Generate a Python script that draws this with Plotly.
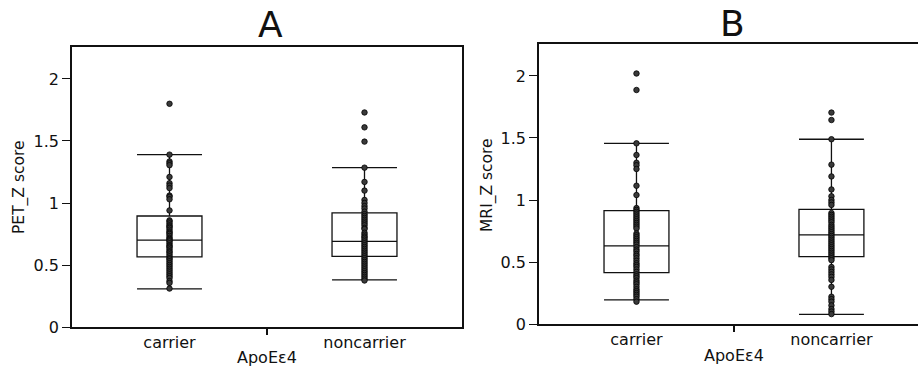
import plotly.graph_objects as go

categories = ["carrier", "noncarrier"]

# Panel A: PET_Z score
pet_q1 = [0.565, 0.57]
pet_median = [0.70, 0.69]
pet_q3 = [0.895, 0.92]
pet_lower = [0.307, 0.38]
pet_upper = [1.39, 1.285]
pet_carrier = [1.80, 1.39, 1.335, 1.32, 1.305, 1.21, 1.16, 1.14, 1.12, 1.06, 1.05, 1.03,
               0.94, 0.86, 0.85, 0.835, 0.82, 0.81, 0.80, 0.785, 0.77, 0.76, 0.75, 0.735,
               0.72, 0.71, 0.70, 0.69, 0.675, 0.66, 0.65, 0.64, 0.625, 0.61, 0.60, 0.585,
               0.57, 0.555, 0.545, 0.53, 0.515, 0.50, 0.485, 0.47, 0.455, 0.44, 0.425,
               0.41, 0.395, 0.37, 0.355, 0.31]
pet_noncarrier = [1.73, 1.61, 1.495, 1.285, 1.17, 1.10, 1.025, 1.00, 0.975, 0.955, 0.93,
                  0.91, 0.895, 0.88, 0.865, 0.85, 0.835, 0.82, 0.80, 0.79, 0.76, 0.745,
                  0.73, 0.72, 0.705, 0.69, 0.675, 0.66, 0.645, 0.63, 0.615, 0.60, 0.585,
                  0.57, 0.555, 0.54, 0.525, 0.51, 0.495, 0.48, 0.465, 0.45, 0.435, 0.42,
                  0.405, 0.39, 0.375]

# Panel B: MRI_Z score
mri_q1 = [0.415, 0.543]
mri_median = [0.63, 0.718]
mri_q3 = [0.915, 0.925]
mri_lower = [0.194, 0.078]
mri_upper = [1.457, 1.49]
mri_carrier = [2.02, 1.887, 1.457, 1.363, 1.30, 1.28, 1.25, 1.115, 1.04, 0.935, 0.92,
               0.905, 0.89, 0.875, 0.86, 0.845, 0.83, 0.815, 0.80, 0.785, 0.77, 0.73,
               0.715, 0.70, 0.685, 0.67, 0.655, 0.64, 0.62, 0.60, 0.585, 0.565, 0.55,
               0.53, 0.51, 0.49, 0.475, 0.46, 0.44, 0.42, 0.40, 0.385, 0.37, 0.35, 0.335,
               0.32, 0.30, 0.28, 0.265, 0.25, 0.235, 0.22, 0.20, 0.18]
mri_noncarrier = [1.705, 1.645, 1.49, 1.285, 1.19, 1.085, 1.03, 1.00, 0.98, 0.96, 0.895,
                  0.88, 0.865, 0.85, 0.835, 0.82, 0.80, 0.785, 0.77, 0.755, 0.74, 0.725,
                  0.71, 0.695, 0.68, 0.665, 0.65, 0.635, 0.62, 0.605, 0.59, 0.575, 0.56,
                  0.545, 0.53, 0.515, 0.46, 0.44, 0.42, 0.40, 0.38, 0.355, 0.30, 0.22,
                  0.20, 0.18, 0.15, 0.12, 0.10, 0.08]

x_title = "ApoEε4"
y_titles = ["PET_Z score", "MRI_Z score"]
panel_titles = ["A", "B"]

FONT = "DejaVu Sans"
LINE = "#111111"
TXT = "#111111"

fig = go.Figure()

def add_panel(xa, ya, q1, med, q3, lo, hi, pts_c, pts_n):
    fig.add_trace(go.Box(
        x=categories, q1=q1, median=med, q3=q3, lowerfence=lo, upperfence=hi,
        boxpoints=False, width=0.333, whiskerwidth=1,
        line=dict(color=LINE, width=1.3), fillcolor="rgba(0,0,0,0)",
        xaxis=xa, yaxis=ya, showlegend=False, hoverinfo="skip"))
    for cat, pts in zip(categories, [pts_c, pts_n]):
        fig.add_trace(go.Scatter(
            x=[cat] * len(pts), y=pts, mode="markers",
            marker=dict(size=5.5, color="#3a3a3a", line=dict(color="#000000", width=0.8)),
            xaxis=xa, yaxis=ya, showlegend=False))

add_panel("x", "y", pet_q1, pet_median, pet_q3, pet_lower, pet_upper, pet_carrier, pet_noncarrier)
add_panel("x2", "y2", mri_q1, mri_median, mri_q3, mri_lower, mri_upper, mri_carrier, mri_noncarrier)

# empty traces so the overlay tick axes are drawn
fig.add_trace(go.Scatter(x=[], y=[], xaxis="x3", yaxis="y", showlegend=False))
fig.add_trace(go.Scatter(x=[], y=[], xaxis="x4", yaxis="y2", showlegend=False))

W, H = 918, 366
xa_dom = [72 / W, 462 / W]
xb_dom = [539 / W, 1.0]

xcommon = dict(type="category", categoryorder="array", categoryarray=categories,
               showline=True, linecolor=LINE, linewidth=1.5, mirror=True,
               ticks="", ticklen=0, automargin=False,
               showgrid=False, zeroline=False,
               tickfont=dict(family=FONT, size=16, color=TXT))
ycommon = dict(range=[0, 2.258], tickvals=[0, 0.5, 1, 1.5, 2],
               ticktext=["0", "0.5", "1", "1.5", "2"],
               showline=True, linecolor=LINE, linewidth=1.5,
               ticks="outside", ticklen=8, tickcolor=LINE, automargin=False,
               showgrid=False, zeroline=False,
               tickfont=dict(family=FONT, size=16, color=TXT))
tickaxis = dict(type="linear", side="bottom", showline=False, showgrid=False, zeroline=False,
                tickvals=[0.5], ticks="outside", ticklen=7, tickcolor=LINE,
                tickwidth=1.5, showticklabels=False, automargin=False)

def ann(text, x, y, size, angle=0):
    return dict(text=text, x=x / W, y=1 - y / H, xref="paper", yref="paper",
                xanchor="center", yanchor="middle", showarrow=False, textangle=angle,
                font=dict(family=FONT, size=size, color=TXT))

fig.update_layout(
    width=W, height=H,
    margin=dict(l=0, r=0, t=0, b=0, autoexpand=False),
    paper_bgcolor="white", plot_bgcolor="white",
    xaxis=dict(xcommon, domain=xa_dom, range=[-0.5, 1.5], anchor="y"),
    yaxis=dict(ycommon, domain=[1 - 327 / H, 1 - 47 / H], anchor="x", mirror=True),
    xaxis2=dict(xcommon, domain=xb_dom, range=[-0.5, 1.444], anchor="y2"),
    yaxis2=dict(ycommon, domain=[1 - 324 / H, 1 - 44 / H], anchor="x2", mirror=False),
    xaxis3=dict(tickaxis, overlaying="x", anchor="y", range=[-0.5, 1.5], domain=xa_dom),
    xaxis4=dict(tickaxis, overlaying="x2", anchor="y2", range=[-0.5, 1.444], domain=xb_dom),
    annotations=[
        ann(panel_titles[0], 270, 25, 36),
        ann(panel_titles[1], 732, 24, 36),
        ann(x_title, 267, 357, 16),
        ann(x_title, 734, 355, 16),
        ann(y_titles[0], 19, 187, 15.5, -90),
        ann(y_titles[1], 487, 185, 15.5, -90),
    ],
)

fig.write_html("out.html")
